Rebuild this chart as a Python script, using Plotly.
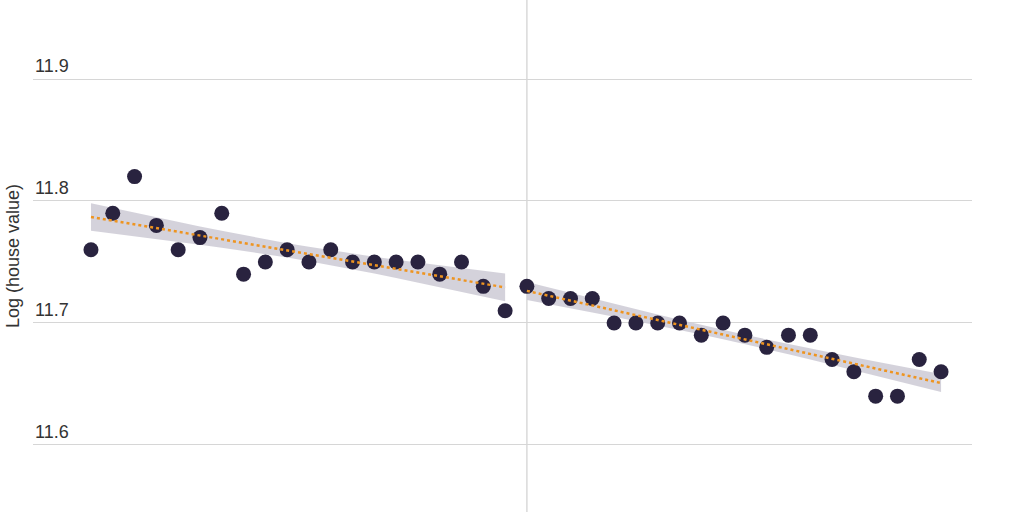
import numpy as np
import plotly.graph_objects as go

# Data
x_left = list(range(-20, 0))
y_left = [11.76, 11.79, 11.82, 11.78, 11.76, 11.77, 11.79, 11.74, 11.75, 11.76,
          11.75, 11.76, 11.75, 11.75, 11.75, 11.75, 11.74, 11.75, 11.73, 11.71]
x_right = list(range(0, 20))
y_right = [11.73, 11.72, 11.72, 11.72, 11.70, 11.70, 11.70, 11.70, 11.69, 11.70,
           11.69, 11.68, 11.69, 11.69, 11.67, 11.66, 11.64, 11.64, 11.67, 11.66]
y_ticks = [11.6, 11.7, 11.8, 11.9]
y_title = "Log (house value)"
cutoff = 0

POINT = "#29233f"
ORANGE = "#ee9420"
BAND = "rgba(205,202,213,0.85)"
GRID = "#d6d6d6"
TEXT = "#333333"
FONT = "Liberation Sans"


def fit(xs, ys):
    xs = np.asarray(xs, float)
    ys = np.asarray(ys, float)
    n = len(xs)
    b1, b0 = np.polyfit(xs, ys, 1)
    pred = b0 + b1 * xs
    resid = ys - pred
    s = np.sqrt(np.sum(resid ** 2) / (n - 2))
    se = s * np.sqrt(1 / n + (xs - xs.mean()) ** 2 / np.sum((xs - xs.mean()) ** 2))
    t = 1.65
    return xs, pred, pred - t * se, pred + t * se


fig = go.Figure()
for xs, ys in [(x_left, y_left), (x_right, y_right)]:
    fx, fy, lo, hi = fit(xs, ys)
    fig.add_trace(go.Scatter(x=np.concatenate([fx, fx[::-1]]), y=np.concatenate([hi, lo[::-1]]),
                             fill="toself", fillcolor=BAND, line=dict(width=0),
                             mode="lines", hoverinfo="skip", showlegend=False))

fig.add_vline(x=cutoff, line=dict(color="#cfcfcf", width=1.2), layer="below")

for xs, ys in [(x_left, y_left), (x_right, y_right)]:
    fig.add_trace(go.Scatter(x=xs, y=ys, mode="markers",
                             marker=dict(color=POINT, size=15, line=dict(width=0)),
                             showlegend=False))
for xs, ys in [(x_left, y_left), (x_right, y_right)]:
    fx, fy, lo, hi = fit(xs, ys)
    fig.add_trace(go.Scatter(x=fx, y=fy, mode="lines",
                             line=dict(color=ORANGE, width=2.5, dash="dot"),
                             showlegend=False))

for v in y_ticks:
    fig.add_annotation(x=0, xref="paper", y=v, yref="y", text=f"{v:.1f}",
                       showarrow=False, xanchor="left", yanchor="bottom", yshift=1,
                       font=dict(family=FONT, size=18, color=TEXT))

fig.add_annotation(x=-20 / 939, xref="paper", y=0.5, yref="paper", text=y_title,
                   showarrow=False, textangle=-90, xanchor="center",
                   font=dict(family=FONT, size=18, color=TEXT))

fig.update_layout(
    width=1024, height=512,
    margin=dict(l=33, r=52, t=0, b=0),
    paper_bgcolor="white", plot_bgcolor="white",
    xaxis=dict(range=[-22.66, 20.42], showgrid=False, zeroline=False,
               showticklabels=False, showline=False),
    yaxis=dict(range=[11.545, 11.9648], tickvals=y_ticks, showticklabels=False,
               showgrid=True, gridcolor=GRID, gridwidth=1, zeroline=False, showline=False),
)

fig.write_html("out.html", config={"displayModeBar": False},
               post_script="document.body.style.margin='0';")
